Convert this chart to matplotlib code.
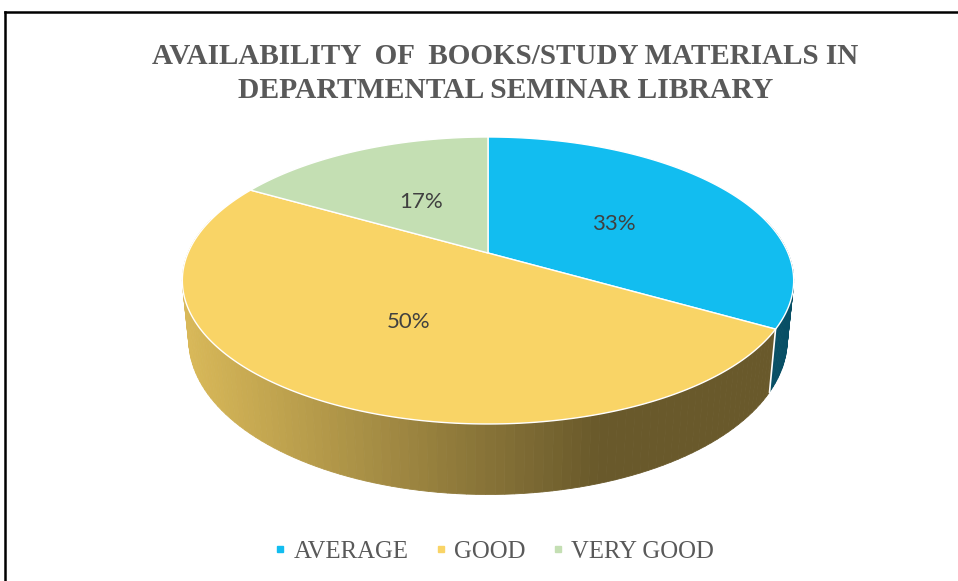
import numpy as np
import matplotlib.pyplot as plt
from matplotlib.lines import Line2D

# Data
categorias = ["AVERAGE", "GOOD", "VERY GOOD"]
percentuais = [33.3, 50.0, 16.7]
rotulos = ["33%", "50%", "17%"]
cores = ["#12bdf0", "#f9d466", "#c4dfb3"]

# 3D pie geometry (pixel space, perspective like Excel)
CX, CY = 488.0, 253.0      # projected centre of the pie
A, D, K = 300.0, 89.75, 0.1916
DEPTH = 57.0
ENCOLHE = 0.979            # bottom face is a bit narrower (perspective)


def proj(u, v):
    w = 1 + K * v
    return CX + A * u / w, (CY - D * v) / w


def ponto(theta, r=1.0):
    # theta in degrees, clockwise from 12 o'clock
    t = np.radians(theta)
    return proj(r * np.sin(t), r * np.cos(t))


def ponto_base(theta):
    x, y = ponto(theta)
    return CX + (x - CX) * ENCOLHE, y + DEPTH / (1 + K * np.cos(np.radians(theta)))


def sombra(x):
    return np.interp(x, [185, 600], [0.87, 0.42])


fig = plt.figure(figsize=(9.58, 5.81), dpi=100)
ax = fig.add_axes([0, 0, 1, 1])
ax.set_xlim(0, 958)
ax.set_ylim(581, 0)
ax.axis("off")

total = sum(percentuais)
limites = np.concatenate([[0], np.cumsum(percentuais) / total * 360])

# side of the cylinder
segmentos = []
for i, cor in enumerate(cores):
    angs = np.linspace(limites[i], limites[i + 1], 120)
    for a0, a1 in zip(angs[:-1], angs[1:]):
        meio = (a0 + a1) / 2
        if np.cos(np.radians(meio)) > 0.25:
            continue
        segmentos.append((np.cos(np.radians(meio)), a0, a1, cor))

segmentos.sort(key=lambda s: -s[0])
for _, a0, a1, cor in segmentos:
    x0, y0 = ponto(a0)
    x1, y1 = ponto(a1)
    bx0, by0 = ponto_base(a0)
    bx1, by1 = ponto_base(a1)
    rgb = np.array(plt.matplotlib.colors.to_rgb(cor)) * sombra((x0 + x1) / 2)
    ax.fill([x0, x1, bx1, bx0], [y0, y1, by1, by0],
            color=rgb, lw=0.6, edgecolor=rgb)

# white seam where slices meet on the visible side
for ang in limites[1:-1]:
    if np.cos(np.radians(ang)) < 0:
        x, y = ponto(ang)
        bx, by = ponto_base(ang)
        ax.plot([x, bx], [y, by], color="white", lw=1.2)

# top face
for i, cor in enumerate(cores):
    angs = np.linspace(limites[i], limites[i + 1], 200)
    xs, ys = ponto(angs)
    xs = np.concatenate([[CX], xs])
    ys = np.concatenate([[CY], ys])
    ax.fill(xs, ys, color=cor, edgecolor="white", lw=1.0)

# percentage labels
for i, txt in enumerate(rotulos):
    meio = (limites[i] + limites[i + 1]) / 2
    x, y = ponto(meio, 0.5)
    ax.text(x + 2, y + 4, txt, ha="center", va="center", fontsize=16,
            family="Lato", color="#404040")

# title
ax.text(505, 57, "AVAILABILITY  OF  BOOKS/STUDY MATERIALS IN",
        ha="center", va="center", fontsize=21, fontweight="bold",
        family="Liberation Serif", color="#595959")
ax.text(506, 91, "DEPARTMENTAL SEMINAR LIBRARY",
        ha="center", va="center", fontsize=21.3, fontweight="bold",
        family="Liberation Serif", color="#595959")

# outer frame
ax.plot([5, 958], [12, 12], color="black", lw=1.8, solid_capstyle="projecting")
ax.plot([5, 5], [12, 581], color="black", lw=1.8, solid_capstyle="projecting")

# legend
marcas = [Line2D([], [], marker="s", ls="", color=c, markersize=5) for c in cores]
fig.legend(marcas, categorias, loc="center", bbox_to_anchor=(494 / 958, 1 - 552 / 581),
           ncol=3, frameon=False, labelcolor="#595959", handlelength=0.5,
           handletextpad=0.3, columnspacing=1.05,
           prop={"family": "Liberation Serif", "size": 17.8})

fig.savefig("out.png", dpi=100)
